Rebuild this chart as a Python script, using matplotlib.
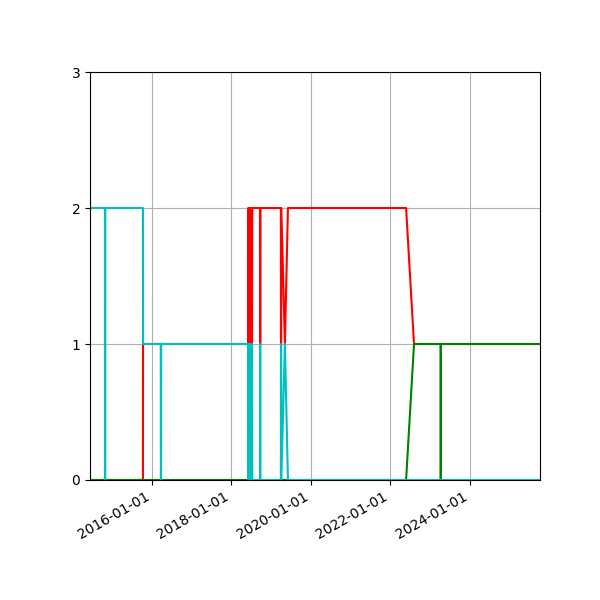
import matplotlib
matplotlib.use("Agg")
import matplotlib.pyplot as plt
import numpy as np

red_dates = ["2014-06-10","2015-10-10","2015-10-11","2018-06-04","2018-06-05","2018-06-08","2018-06-10","2018-06-14","2018-06-16","2018-06-20","2018-06-22","2018-06-26","2018-06-28","2018-07-02","2018-07-04","2018-07-10","2018-07-12","2018-09-21","2018-09-22","2018-09-24","2018-09-25","2019-04-01","2019-04-02","2019-04-04","2019-04-05","2019-05-08","2019-06-05","2022-05-27","2022-08-08","2025-10-10"]
red_vals  = [0,0,1,1,2,2,1,1,2,2,1,1,2,2,1,1,2,2,1,1,2,2,1,1,2,1,2,2,1,1]

green_dates = ["2014-06-10","2022-05-27","2022-08-08","2023-04-10","2023-04-11","2023-04-12","2025-10-10"]
green_vals  = [0,0,1,1,0,1,1]

cyan_dates = ["2014-06-10","2014-10-25","2014-10-26","2014-10-28","2014-10-29","2015-10-10","2015-10-11","2016-03-22","2016-03-23","2016-03-25","2016-03-26","2018-06-04","2018-06-05","2018-06-08","2018-06-10","2018-06-14","2018-06-16","2018-06-20","2018-06-22","2018-06-26","2018-06-28","2018-07-02","2018-07-04","2018-07-10","2018-07-12","2018-09-21","2018-09-22","2018-09-24","2018-09-25","2019-04-01","2019-04-02","2019-04-04","2019-04-05","2019-05-08","2019-06-05","2025-10-10"]
cyan_vals  = [2,2,0,0,2,2,1,1,0,0,1,1,0,0,1,1,0,0,1,1,0,0,1,1,0,0,1,1,0,0,1,1,0,1,0,0]

fig, ax = plt.subplots(figsize=(6, 6), dpi=100)
fig.subplots_adjust(left=0.15, right=0.9, top=0.88, bottom=0.2)
for d, v, c in [(red_dates, red_vals, "red"), (green_dates, green_vals, "green"), (cyan_dates, cyan_vals, "c")]:
    ax.plot(np.array(d, dtype="datetime64[D]"), v, color=c)
ax.set_ylim(0, 3)
ax.set_yticks([0, 1, 2, 3])
ax.set_xlim(np.datetime64("2014-06-10"), np.datetime64("2025-10-10"))
ax.set_xticks(np.array(["2016-01-01","2018-01-01","2020-01-01","2022-01-01","2024-01-01"], dtype="datetime64[D]"))
import matplotlib.dates as mdates
ax.xaxis.set_major_formatter(mdates.DateFormatter("%Y-%m-%d"))
ax.grid(True)
fig.autofmt_xdate()
fig.savefig("out.png")
